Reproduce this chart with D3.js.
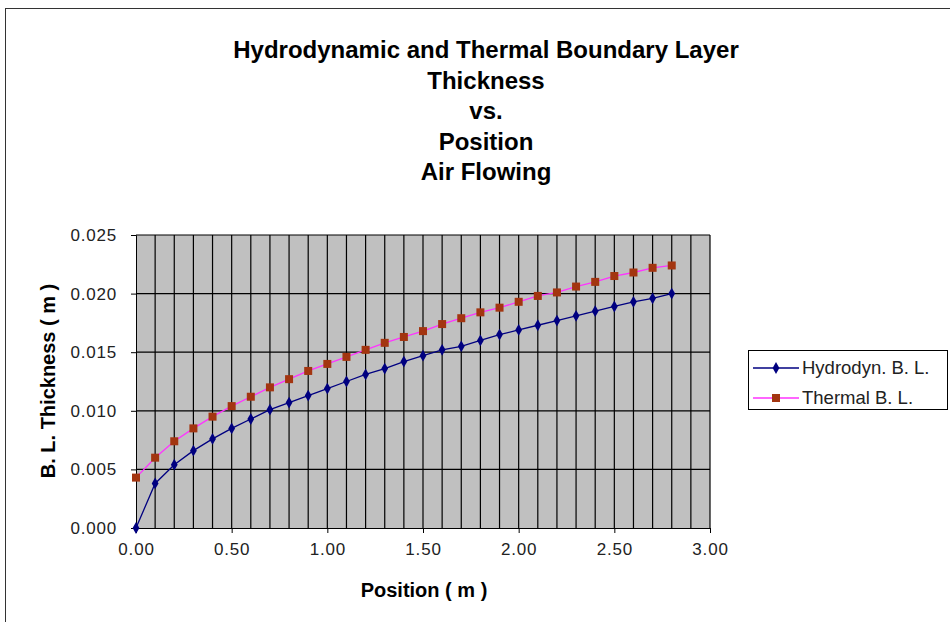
<!DOCTYPE html>
<html><head><meta charset="utf-8">
<script src="https://cdn.jsdelivr.net/npm/d3@7"></script>
<style>body{margin:0;background:#fff}svg{display:block}text{font-family:"Liberation Sans",Arial,sans-serif}</style>
</head><body><svg id="c" width="950" height="622"></svg>
<script>
const positions = [0,0.1,0.2,0.3,0.4,0.5,0.6,0.7,0.8,0.9,1.0,1.1,1.2,1.3,1.4,1.5,1.6,1.7,1.8,1.9,2.0,2.1,2.2,2.3,2.4,2.5,2.6,2.7,2.8];
const hydrodyn = [0.0000,0.0038,0.0054,0.0066,0.0076,0.0085,0.0093,0.0101,0.0107,0.0113,0.0119,0.0125,0.0131,0.0136,0.0142,0.0147,0.0152,0.0155,0.0160,0.0165,0.0169,0.0173,0.0177,0.0181,0.0185,0.0189,0.0193,0.0196,0.0200];
const thermal = [0.0043,0.0060,0.0074,0.0085,0.0095,0.0104,0.0112,0.0120,0.0127,0.0134,0.0140,0.0146,0.0152,0.0158,0.0163,0.0168,0.0174,0.0179,0.0184,0.0188,0.0193,0.0198,0.0201,0.0206,0.0210,0.0215,0.0218,0.0222,0.0224];
const xTicks = [0,0.5,1.0,1.5,2.0,2.5,3.0];
const yTicks = [0,0.005,0.010,0.015,0.020,0.025];
const titleLines = ["Hydrodynamic and Thermal Boundary Layer","Thickness","vs.","Position","Air Flowing"];
const seriesNames = ["Hydrodyn. B. L.","Thermal B. L."];

const svg = d3.select("#c");
svg.append("rect").attr("x",5.5).attr("y",8.5).attr("width",960).attr("height",640).attr("fill","#fff").attr("stroke","#333");

const L=136,R=710,T=235,B=528;
const x = d3.scaleLinear().domain([0,3]).range([L,R]);
const y = d3.scaleLinear().domain([0,0.025]).range([B,T]);

svg.append("rect").attr("x",L).attr("y",T).attr("width",R-L).attr("height",B-T).attr("fill","#c0c0c0");
const vg = d3.range(1,31).map(i=>i/10);
svg.append("g").selectAll("line").data(vg).join("line")
  .attr("x1",d=>x(d)).attr("x2",d=>x(d)).attr("y1",T).attr("y2",B).attr("stroke","#000").attr("stroke-width",1.2);
svg.append("g").selectAll("line").data(yTicks.slice(1)).join("line")
  .attr("x1",L).attr("x2",R).attr("y1",d=>y(d)).attr("y2",d=>y(d)).attr("stroke","#000").attr("stroke-width",1.2);

const xa = svg.append("g").attr("transform",`translate(0,${B})`)
  .call(d3.axisBottom(x).tickValues(xTicks).tickFormat(d3.format(".2f")).tickSize(5).tickPadding(5));
const ya = svg.append("g").attr("transform",`translate(${L},0)`)
  .call(d3.axisLeft(y).tickValues(yTicks).tickFormat(d3.format(".3f")).tickSize(5).tickPadding(14));
[xa,ya].forEach(a=>{a.selectAll("text").attr("font-size",17).attr("letter-spacing",0.8).attr("fill","#222").attr("font-family","Liberation Sans, Arial, sans-serif");
  a.selectAll("line,path").attr("stroke","#000");});
xa.selectAll("text").attr("dy","1em");

const line = d3.line().x(d=>x(d[0])).y(d=>y(d[1]));
const hd = positions.map((p,i)=>[p,hydrodyn[i]]);
const th = positions.map((p,i)=>[p,thermal[i]]);
svg.append("path").datum(th).attr("d",line).attr("fill","none").attr("stroke","#ff33ff").attr("stroke-width",1.3);
svg.append("path").datum(hd).attr("d",line).attr("fill","none").attr("stroke","#000080").attr("stroke-width",1.3);
svg.append("g").selectAll("rect").data(th).join("rect")
  .attr("x",d=>x(d[0])-4).attr("y",d=>y(d[1])-4).attr("width",8).attr("height",8).attr("fill","#a33510");
const diamond = d3.symbol().type(d3.symbolDiamond).size(40);
svg.append("g").selectAll("path").data(hd).join("path")
  .attr("transform",d=>`translate(${x(d[0])},${y(d[1])})`).attr("d",diamond).attr("fill","#000080");

svg.append("g").selectAll("text").data(titleLines).join("text")
  .attr("x",486).attr("y",(d,i)=>58+i*30.5).attr("text-anchor","middle")
  .attr("font-size",24).attr("font-weight","bold").text(d=>d);
svg.append("text").attr("x",424).attr("y",597).attr("text-anchor","middle").attr("font-size",20).attr("font-weight","bold").text("Position ( m )");
svg.append("text").attr("transform","translate(55,381) rotate(-90)").attr("text-anchor","middle").attr("font-size",20).attr("font-weight","bold").text("B. L. Thickness ( m )");

const lg = svg.append("g");
lg.append("rect").attr("x",748.5).attr("y",350.5).attr("width",199).attr("height",59).attr("fill","#fff").attr("stroke","#000");
const cols=[["#000080","#000080","d"],["#ff33ff","#a33510","s"]];
seriesNames.forEach((n,i)=>{
  const yy=368+i*30;
  lg.append("line").attr("x1",753).attr("x2",799).attr("y1",yy).attr("y2",yy).attr("stroke",cols[i][0]).attr("stroke-width",1.3);
  if(cols[i][2]==="d") lg.append("path").attr("transform",`translate(776,${yy})`).attr("d",diamond).attr("fill",cols[i][1]);
  else lg.append("rect").attr("x",772).attr("y",yy-4).attr("width",8).attr("height",8).attr("fill",cols[i][1]);
  lg.append("text").attr("x",802).attr("y",yy+6).attr("font-size",18.5).attr("fill","#222").text(n);
});
</script></body></html>
